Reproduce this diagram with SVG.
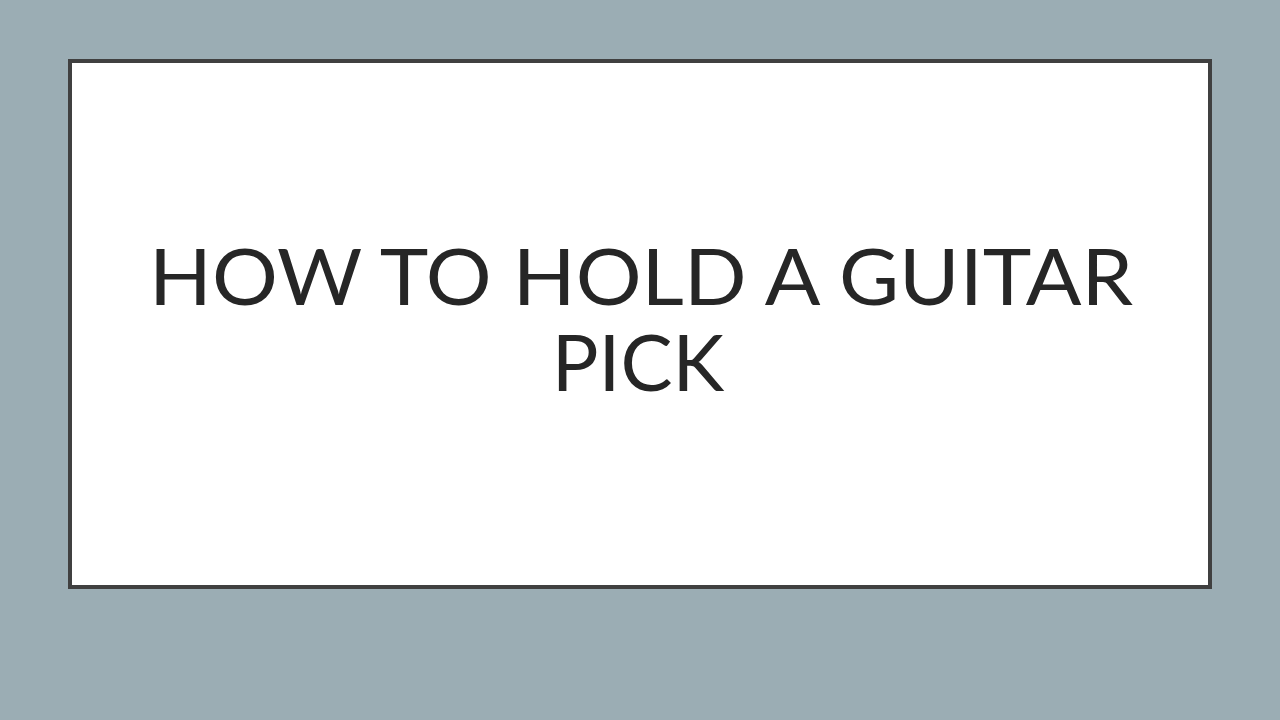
<svg xmlns="http://www.w3.org/2000/svg" width="1280" height="720" viewBox="0 0 1280 720">
<style>
.title{font-family:"Gill Sans MT","Gill Sans",Lato,"Liberation Sans",sans-serif;font-size:78px;fill:#262626;text-anchor:middle}
</style>
<rect x="0" y="0" width="1280" height="720" fill="#9BADB4"/>
<g id="title-box">
<rect x="70" y="61" width="1140" height="526" fill="#FFFFFF" stroke="#404040" stroke-width="4"/>
<text class="title" x="641" y="305" textLength="984" lengthAdjust="spacingAndGlyphs">HOW TO HOLD A GUITAR</text>
<text class="title" x="638" y="391">PICK</text>
</g>
</svg>
